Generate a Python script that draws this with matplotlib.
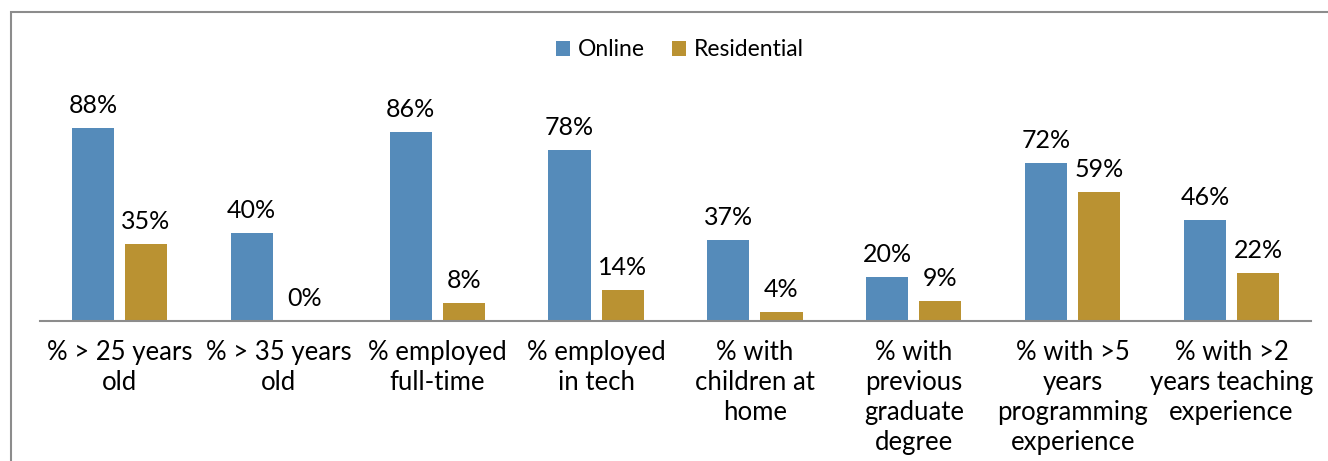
import matplotlib
matplotlib.use("Agg")
import matplotlib.pyplot as plt
from matplotlib.patches import Rectangle
import numpy as np

categories = ["% > 25 years\nold", "% > 35 years\nold", "% employed\nfull-time",
              "% employed\nin tech", "% with\nchildren at\nhome", "% with\nprevious\ngraduate\ndegree",
              "% with >5\nyears\nprogramming\nexperience", "% with >2\nyears teaching\nexperience"]
online = [88, 40, 86, 78, 37, 20, 72, 46]
residential = [35, 0, 8, 14, 4, 9, 59, 22]

plt.rcParams['font.family'] = ['Lato', 'DejaVu Sans']

W, H = 1328, 461
fig = plt.figure(figsize=(W / 100, H / 100), dpi=100)
fig.patch.set_facecolor('white')

# outer frame (cropped at right/bottom)
fig.patches.append(Rectangle((11 / W, -0.1), 2.0, 1 - 12 / H + 0.1, transform=fig.transFigure,
                             fill=False, edgecolor='#8c8c8c', linewidth=1.5))

ax = fig.add_axes([40 / W, 1 - 321 / H, (1311 - 40) / W, 219.3 / H])
x = np.arange(len(categories))
bw = 0.265
off = 0.167
c_on = '#558BBA'
c_res = '#BA9232'
b1 = ax.bar(x - off, online, bw, color=c_on, label='Online')
b2 = ax.bar(x + off, residential, bw, color=c_res, label='Residential')
for bars, vals in ((b1, online), (b2, residential)):
    for r, v in zip(bars, vals):
        ax.annotate(f"{v}%", (r.get_x() + r.get_width() / 2, v), xytext=(0, 8),
                    textcoords='offset points', ha='center', va='bottom', fontsize=18)

ax.set_xlim(-0.5, len(categories) - 0.5)
ax.set_ylim(0, 100)
ax.set_xticks(x)
ax.set_xticklabels(categories, fontsize=18.5, linespacing=1.25)
ax.tick_params(axis='x', length=0, pad=14)
ax.set_yticks([])
for s in ('top', 'right', 'left'):
    ax.spines[s].set_visible(False)
ax.spines['bottom'].set_color('#8c8c8c')
ax.spines['bottom'].set_linewidth(1.5)

fig.legend(handles=[b1, b2], labels=['Online', 'Residential'], loc='center',
           bbox_to_anchor=(680 / W, 1 - 50 / H), ncol=2, frameon=False, fontsize=16.5,
           handlelength=0.6, handleheight=0.6, handletextpad=0.35, columnspacing=1.2)

fig.savefig('out.png', dpi=100, facecolor='white')
